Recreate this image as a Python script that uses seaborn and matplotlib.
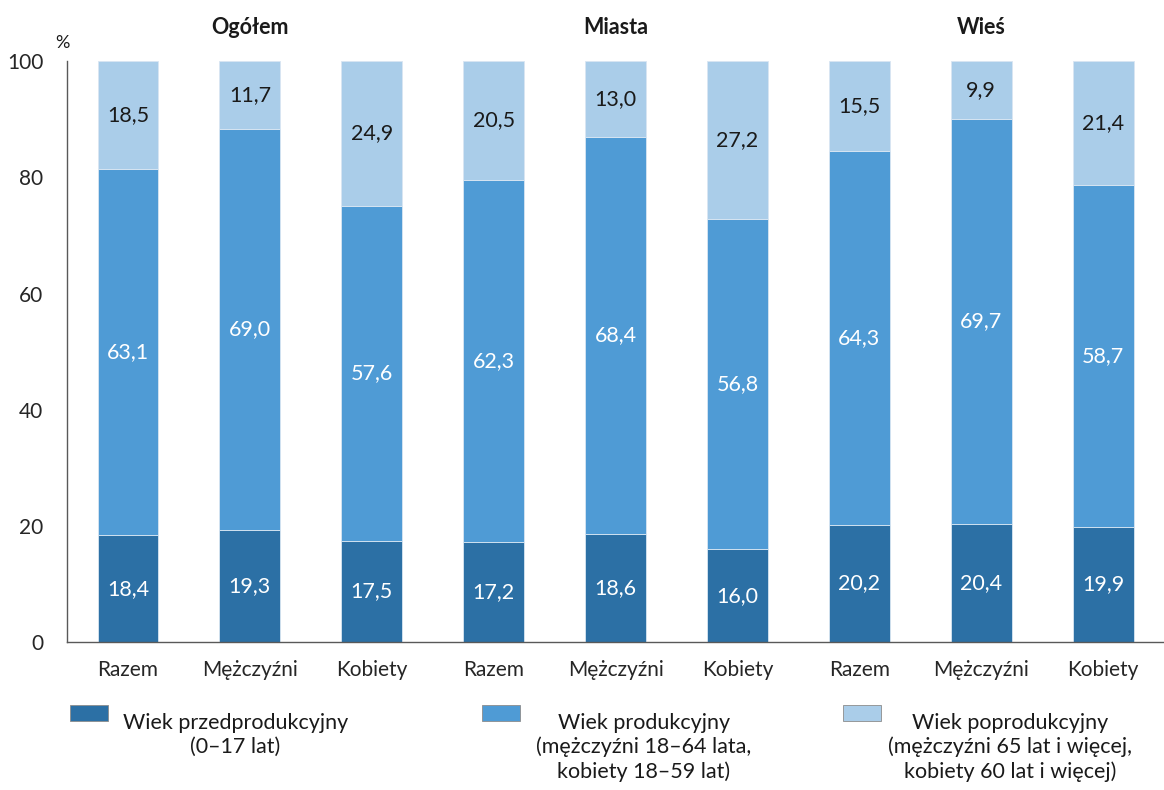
import numpy as np
import pandas as pd
import matplotlib.pyplot as plt
import seaborn as sns
from matplotlib.patches import Rectangle

# dane (%)
kategorie = ['Razem', 'Mężczyźni', 'Kobiety'] * 3
grupy = ['Ogółem', 'Miasta', 'Wieś']
przedprod = [18.4, 19.3, 17.5, 17.2, 18.6, 16.0, 20.2, 20.4, 19.9]
prod = [63.1, 69.0, 57.6, 62.3, 68.4, 56.8, 64.3, 69.7, 58.7]
poprod = [18.5, 11.7, 24.9, 20.5, 13.0, 27.2, 15.5, 9.9, 21.4]
legenda = ['Wiek przedprodukcyjny\n(0–17 lat)',
           'Wiek produkcyjny\n(mężczyźni 18–64 lata,\nkobiety 18–59 lat)',
           'Wiek poprodukcyjny\n(mężczyźni 65 lat i więcej,\nkobiety 60 lat i więcej)']
kolory = ['#2C70A5', '#4F9BD5', '#AACDE9']

sns.set_style('white')
plt.rcParams['font.family'] = ['Lato', 'DejaVu Sans']
plt.rcParams['text.color'] = '#1a1a1a'

df = pd.DataFrame({'poz': range(9), 'przed': przedprod, 'prod': prod, 'po': poprod})
df['dol2'] = df['przed'] + df['prod']

fig = plt.figure(figsize=(11.64, 7.9), dpi=100)
ax = fig.add_axes([0.0576, 0.187, 0.9424, 0.7358])

seg = [('przed', None, kolory[0], 'white'),
       ('prod', df['przed'], kolory[1], 'white'),
       ('po', df['dol2'], kolory[2], '#1a1a1a')]
for kol, dol, c, tc in seg:
    sns.barplot(data=df, x='poz', y=kol, bottom=dol, color=c, width=0.5,
                edgecolor='#d9e6f2', linewidth=0.6, saturation=1, ax=ax)
    base = np.zeros(9) if dol is None else np.asarray(dol)
    for i, v in enumerate(df[kol]):
        ax.text(i, base[i] + v / 2, f'{v:.1f}'.replace('.', ','), ha='center',
                va='center', fontsize=15.5, color=tc)

ax.set_xlim(-0.5, 8.5)
ax.set_ylim(0, 100)
ax.set_yticks(range(0, 101, 20))
ax.set_xticks(range(9))
ax.set_xticklabels(kategorie)
ax.set_xticks(np.arange(-0.5, 9, 1), minor=True)
ax.tick_params(axis='x', which='major', length=0, labelsize=15, pad=13)
ax.tick_params(axis='x', which='minor', length=6, width=1, color='#595959', direction='out')
ax.tick_params(axis='y', length=5, width=1, color='#595959', direction='out', labelsize=15, pad=12)
ax.set_xlabel('')
ax.set_ylabel('')
for s in ['top', 'right']:
    ax.spines[s].set_visible(False)
for s in ['left', 'bottom']:
    ax.spines[s].set_color('#595959')
    ax.spines[s].set_linewidth(1)

for j, g in enumerate(grupy):
    ax.text(3 * j + 1, 104, g, ha='center', va='bottom', fontsize=15.5, fontweight='bold',
            transform=ax.transData, clip_on=False)
ax.text(-0.6, 101.8, '%', ha='left', va='bottom', fontsize=13)

# legenda
px = [0.060, 0.414, 0.724]
tx = [0.202, 0.553, 0.868]
for k in range(3):
    fig.patches.append(Rectangle((px[k], 0.087), 0.033, 0.021, transform=fig.transFigure,
                                 facecolor=kolory[k], edgecolor='#8c8c8c', linewidth=0.6))
    fig.text(tx[k], 0.098, legenda[k], ha='center', va='top', fontsize=15.5,
             linespacing=1.25, multialignment='center')

fig.savefig('out.png', dpi=100)
